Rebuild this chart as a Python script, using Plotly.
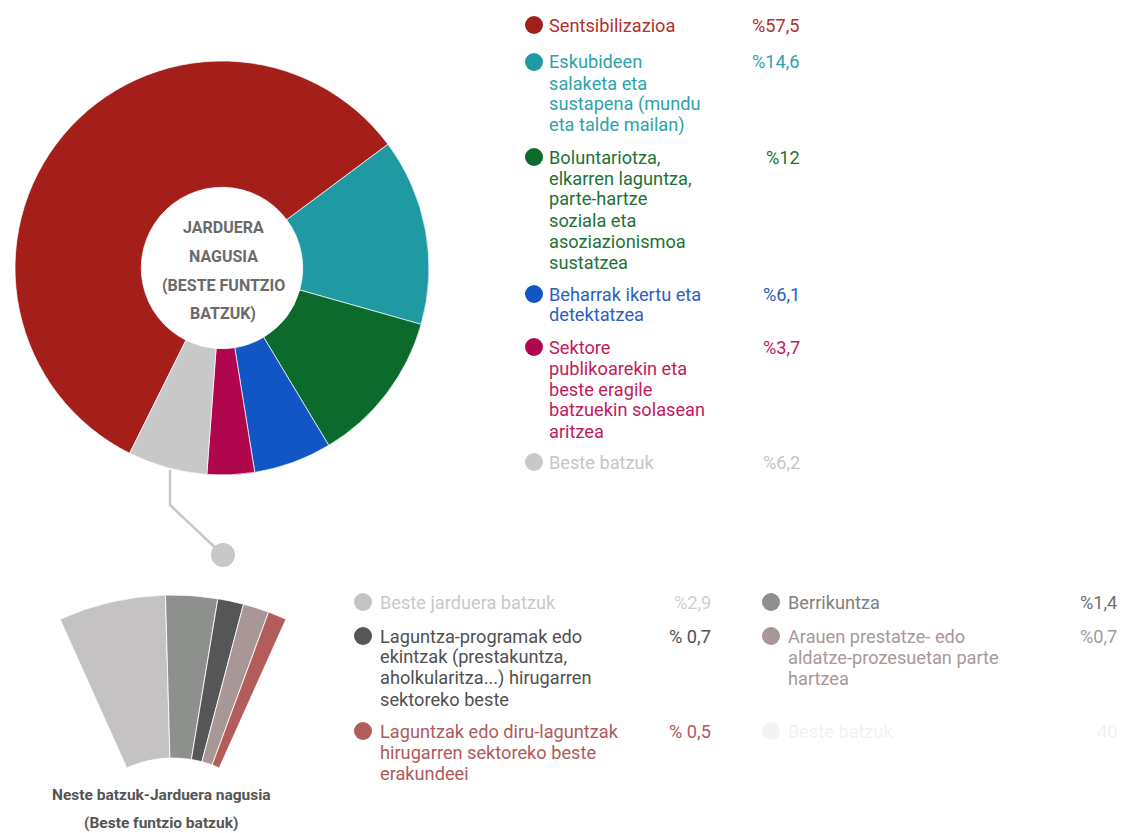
import math
import plotly.graph_objects as go

# ---------------- data ----------------
main_labels = [
    "Sentsibilizazioa",
    "Eskubideen salaketa eta sustapena (mundu eta talde mailan)",
    "Boluntariotza, elkarren laguntza, parte-hartze soziala eta asoziazionismoa sustatzea",
    "Beharrak ikertu eta detektatzea",
    "Sektore publikoarekin eta beste eragile batzuekin solasean aritzea",
    "Beste batzuk",
]
main_values = [57.5, 14.6, 12, 6.1, 3.7, 6.2]
main_value_text = ["%57,5", "%14,6", "%12", "%6,1", "%3,7", "%6,2"]
main_label_lines = [
    ["Sentsibilizazioa"],
    ["Eskubideen", "salaketa eta", "sustapena (mundu", "eta talde mailan)"],
    ["Boluntariotza,", "elkarren laguntza,", "parte-hartze", "soziala eta", "asoziazionismoa", "sustatzea"],
    ["Beharrak ikertu eta", "detektatzea"],
    ["Sektore", "publikoarekin eta", "beste eragile", "batzuekin solasean", "aritzea"],
    ["Beste batzuk"],
]
center_lines = ["JARDUERA", "NAGUSIA", "(BESTE FUNTZIO", "BATZUK)"]

sub_labels = [
    "Beste jarduera batzuk",
    "Berrikuntza",
    "Laguntza-programak edo ekintzak (prestakuntza, aholkularitza...) hirugarren sektoreko beste",
    "Arauen prestatze- edo aldatze-prozesuetan parte hartzea",
    "Laguntzak edo diru-laguntzak hirugarren sektoreko beste erakundeei",
]
sub_values = [2.9, 1.4, 0.7, 0.7, 0.5]
sub_value_text = ["%2,9", "%1,4", "% 0,7", "%0,7", "% 0,5"]
sub_label_lines = [
    ["Beste jarduera batzuk"],
    ["Berrikuntza"],
    ["Laguntza-programak edo", "ekintzak (prestakuntza,", "aholkularitza...) hirugarren", "sektoreko beste"],
    ["Arauen prestatze- edo", "aldatze-prozesuetan parte", "hartzea"],
    ["Laguntzak edo diru-laguntzak", "hirugarren sektoreko beste", "erakundeei"],
]
sub_hidden_label = "Beste batzuk"
sub_hidden_value = 40
sub_title_lines = ["Neste batzuk-Jarduera nagusia", "(Beste funtzio batzuk)"]

# ---------------- styles ----------------
main_colors = ["#a41e1a", "#1f9aa3", "#0b6a2c", "#1156c4", "#b0064e", "#c8c8c8"]
main_text_colors = ["#b3302c", "#2ea3ab", "#1e7235", "#2a60c2", "#c21a5a", "#c6c6c6"]
sub_colors = ["#c4c2c3", "#8e908d", "#555657", "#a99797", "#b25c5c"]
sub_text_colors = ["#c9c9c9", "#808080", "#505050", "#a89898", "#b05a5a"]
sub_value_colors = ["#cfcfcf", "#707070", "#505050", "#a89898", "#b05a5a"]
hidden_text_color = "#f1f1f1"

W, H = 1123, 880
FONT = "Roboto"
FS = 18.2


def fx(px):
    return px / W


def fy(py):
    return 1 - py / H


fig = go.Figure()

# main donut
cx, cy, R = 222, 268, 207
fig.add_trace(go.Pie(
    labels=main_labels, values=main_values, sort=False, direction="clockwise",
    rotation=206.5, hole=0.39, textinfo="none", hoverinfo="label+percent",
    marker=dict(colors=main_colors, line=dict(color="rgba(255,255,255,0.7)", width=1)),
    domain=dict(x=[fx(cx - R), fx(cx + R)], y=[fy(cy + R), fy(cy - R)]),
    showlegend=False,
))

# secondary fan (barpolar, hidden remainder slice sets the angular scale)
total = sum(sub_values) + sub_hidden_value
k = 360.0 / total
vis_span = sum(sub_values) * k
start = -vis_span / 2
thetas, widths = [], []
acc = 0.0
for v in sub_values:
    thetas.append(start + (acc + v / 2) * k)
    widths.append(v * k)
    acc += v
fig.add_trace(go.Barpolar(
    r=[1] * len(sub_values), theta=thetas, width=widths, base=0,
    marker=dict(color=sub_colors, line=dict(color="rgba(255,255,255,0.85)", width=1)),
    text=sub_labels, hoverinfo="text", showlegend=False, subplot="polar",
))
fcx, fcy, FR, fr = 173, 871, 276, 113
half = vis_span / 2
hw = FR * math.sin(math.radians(half))
fig.update_layout(polar=dict(
    sector=[90 - half, 90 + half],
    hole=fr / FR,
    domain=dict(x=[fx(fcx - hw), fx(fcx + hw)], y=[fy(fcy), fy(fcy - FR)]),
    bgcolor="rgba(0,0,0,0)",
    radialaxis=dict(range=[0, 1], visible=False, showgrid=False),
    angularaxis=dict(rotation=90, direction="clockwise", visible=False, showgrid=False),
))

ann = []
shapes = []


def text(x, y, s, color, size, anchor="left", bold=False):
    if bold:
        s = "<b>" + s + "</b>"
    ann.append(dict(x=fx(x), y=fy(y), xref="paper", yref="paper", text=s,
                    showarrow=False, xanchor=anchor, yanchor="middle",
                    font=dict(family=FONT, size=size, color=color)))


def dot(x, y, r, color):
    shapes.append(dict(type="circle", xref="paper", yref="paper",
                       x0=fx(x - r), x1=fx(x + r), y0=fy(y + r), y1=fy(y - r),
                       fillcolor=color, line=dict(width=0)))


LINE = 21
# right legend
main_tops = [25, 62, 157, 294, 347, 462]
for i, lines in enumerate(main_label_lines):
    y0 = main_tops[i]
    dot(534, y0, 9, main_colors[i])
    for j, ln in enumerate(lines):
        text(547, y0 + j * LINE, ln, main_text_colors[i], FS)
    text(802, y0, main_value_text[i], main_text_colors[i], FS, anchor="right")

# center label
for j, ln in enumerate(center_lines):
    text(cx + 1, 228 + j * 28.5, ln, "#6a6a6a", 16, anchor="center", bold=True)

# bottom legend (two columns)
sub_pos = [(363, 602), (771, 602), (363, 636), (771, 636), (363, 731)]
for i, lines in enumerate(sub_label_lines):
    x0, y0 = sub_pos[i]
    dot(x0, y0, 9, sub_colors[i])
    for j, ln in enumerate(lines):
        text(x0 + 15, y0 + j * LINE, ln, sub_text_colors[i], FS)
    vx = 713 if x0 < 500 else 1119
    text(vx, y0, sub_value_text[i], sub_value_colors[i], FS, anchor="right")
# hidden remainder entry (very faint)
dot(771, 731, 9, "#f3f3f3")
text(786, 731, sub_hidden_label, hidden_text_color, FS)
text(1119, 731, str(sub_hidden_value), hidden_text_color, FS, anchor="right")

# fan title
for j, ln in enumerate(sub_title_lines):
    text(161, 795 + j * 28, ln, "#555555", 15.5, anchor="center", bold=True)

# connector from grey slice to fan
shapes.append(dict(type="path", xref="paper", yref="paper",
                   path=f"M {fx(170)},{fy(470)} L {fx(170)},{fy(505)} L {fx(223)},{fy(555)}",
                   line=dict(color="#c8c8c8", width=2.5)))
dot(223, 555, 12, "#c8c8c8")

fig.update_layout(
    width=W, height=H, margin=dict(l=0, r=0, t=0, b=0),
    paper_bgcolor="white", plot_bgcolor="white",
    annotations=ann, shapes=shapes, showlegend=False,
    font=dict(family=FONT),
)

fig.write_html("out.html", config={"displayModeBar": False},
               post_script="document.body.style.margin='0';document.body.style.overflow='hidden';")
